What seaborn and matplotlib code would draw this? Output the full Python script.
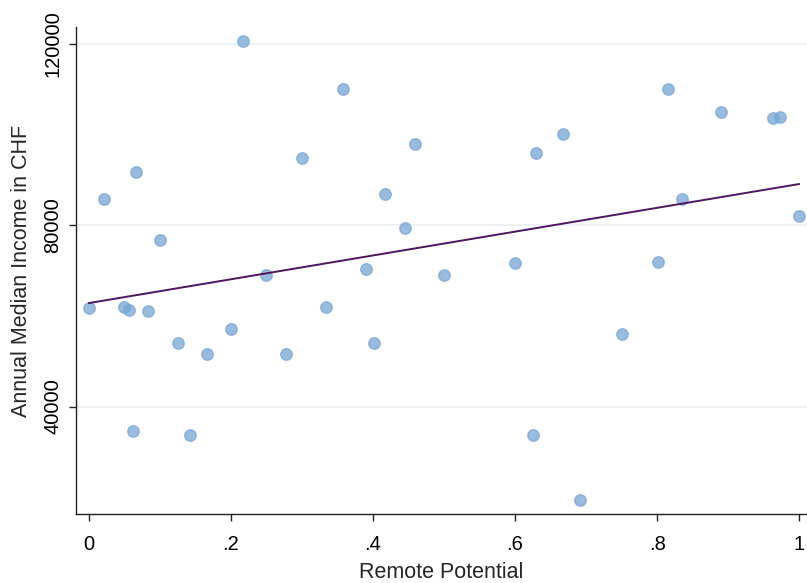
import numpy as np
import pandas as pd
import matplotlib
matplotlib.use('Agg')
import matplotlib.pyplot as plt
import seaborn as sns

# 數據
remote_potential = [0.000, 0.0215, 0.0497, 0.0563, 0.0624, 0.0667, 0.084, 0.100,
                    0.1258, 0.1427, 0.1667, 0.2005, 0.2173, 0.250, 0.2775, 0.300,
                    0.3343, 0.3582, 0.3897, 0.401, 0.4174, 0.445, 0.4587, 0.500,
                    0.6005, 0.6258, 0.630, 0.6676, 0.6915, 0.7512, 0.801, 0.8159,
                    0.8347, 0.890, 0.9638, 0.9728, 1.000]
median_income = [61800, 85800, 62000, 61200, 34500, 91700, 61100, 76800,
                 54000, 33800, 51500, 57200, 120700, 69000, 51500, 94900,
                 62000, 110000, 70300, 54000, 87000, 79300, 98000, 69000,
                 71600, 33800, 96000, 100100, 19300, 56000, 71900, 110000,
                 85800, 105000, 103700, 104000, 82100]

x_ticks = [0, 0.2, 0.4, 0.6, 0.8, 1.0]
x_tick_labels = ['0', '.2', '.4', '.6', '.8', '1']
y_ticks = [40000, 80000, 120000]

data = pd.DataFrame({'Remote Potential': remote_potential,
                     'Annual Median Income in CHF': median_income})

sns.set_style('white')
plt.rcParams['font.family'] = ['Liberation Sans', 'DejaVu Sans']

fig = plt.figure(figsize=(8.07, 5.83), dpi=100)
ax = fig.add_axes([0.0942, 0.1184, 0.9058, 0.8353])

# 網格線
for yt in y_ticks:
    ax.axhline(yt, color='#eaf0f5', lw=1.3, zorder=0)

sns.scatterplot(data=data, x='Remote Potential', y='Annual Median Income in CHF',
                ax=ax, s=68, color='#76a5d3', alpha=0.75,
                edgecolor='#76a5d3', linewidth=1.0, zorder=2)
sns.regplot(data=data, x='Remote Potential', y='Annual Median Income in CHF',
            ax=ax, scatter=False, ci=None, truncate=True,
            line_kws={'color': '#4f1560', 'lw': 1.4, 'zorder': 3})

ax.set_xlim(-0.018, 1.011)
ax.set_ylim(16300, 123750)
ax.set_xticks(x_ticks)
ax.set_xticklabels(x_tick_labels)
ax.set_yticks(y_ticks)
ax.set_yticklabels([str(v) for v in y_ticks], rotation=90, va='center')
ax.tick_params(axis='both', direction='out', length=5, width=1, colors='#222222',
               labelsize=14.5, labelcolor='black', bottom=True, left=True)
ax.tick_params(axis='x', pad=10)
ax.tick_params(axis='y', pad=5)

ax.set_xlabel('Remote Potential', fontsize=15.5, labelpad=6)
ax.set_ylabel('Annual Median Income in CHF', fontsize=15.5, labelpad=8)

sns.despine(ax=ax, top=True, right=True)
for side in ['left', 'bottom']:
    ax.spines[side].set_color('#222222')
    ax.spines[side].set_linewidth(1.0)

fig.savefig('out.png', dpi=100)
